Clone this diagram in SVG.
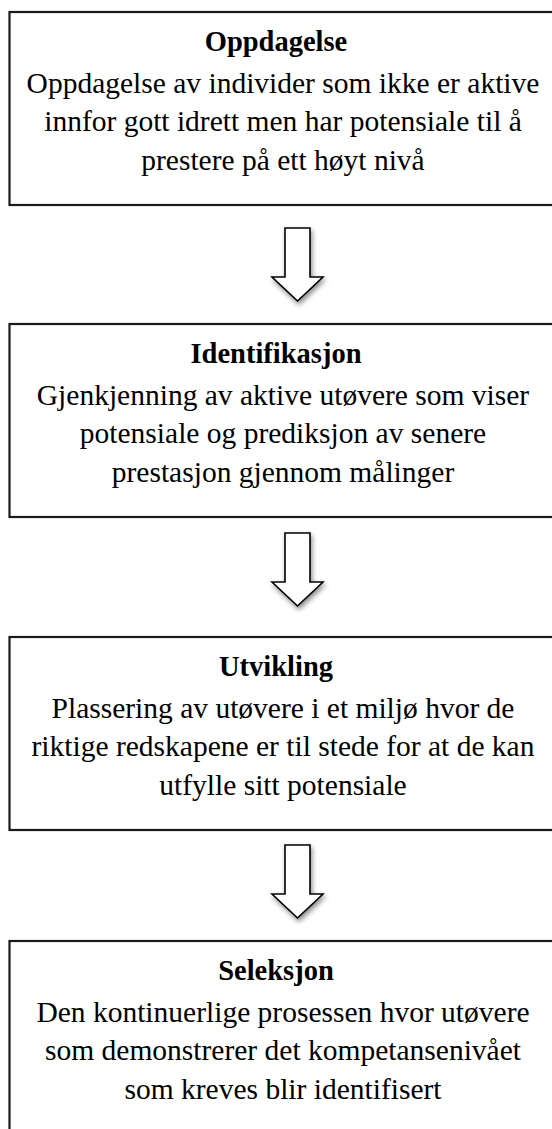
<svg xmlns="http://www.w3.org/2000/svg" width="552" height="1129" viewBox="0 0 552 1129">
<style>
.box{fill:#fff;stroke:#1a1a1a;stroke-width:2.2}
.t{font-family:"Liberation Serif","Times New Roman",serif;font-weight:bold;font-size:28.5px;fill:#000;text-anchor:middle}
.b{font-family:"Liberation Serif","Times New Roman",serif;font-size:29.5px;fill:#000;text-anchor:middle}
.arr{fill:#fff;stroke:#000;stroke-width:1.6;stroke-linejoin:miter;filter:url(#sh)}
</style>
<defs>
<filter id="sh" x="-50%" y="-50%" width="200%" height="200%">
<feDropShadow dx="1.5" dy="3" stdDeviation="2.5" flood-color="#000" flood-opacity="0.45"/>
</filter>
<path id="arrowShape" d="M285,0 L310,0 L310,49 L323,49 L297.5,73 L272,49 L285,49 Z"/>
</defs>
<rect width="552" height="1129" fill="#fff"/>
<g id="connectors">
<use href="#arrowShape" class="arr" transform="translate(0,228)"/>
<use href="#arrowShape" class="arr" transform="translate(0,533)"/>
<use href="#arrowShape" class="arr" transform="translate(0,845)"/>
</g>
<g id="oppdagelse">
<rect class="box" x="9.5" y="12" width="560" height="193"/>
<text class="t" x="276" y="51">Oppdagelse</text>
<text class="b" x="283" y="92.5">Oppdagelse av individer som ikke er aktive</text>
<text class="b" x="283" y="131">innfor gott idrett men har potensiale til å</text>
<text class="b" x="283" y="169.5">prestere på ett høyt nivå</text>
</g>
<g id="identifikasjon">
<rect class="box" x="9.5" y="324" width="560" height="193"/>
<text class="t" x="276" y="363">Identifikasjon</text>
<text class="b" x="283" y="404.5">Gjenkjenning av aktive utøvere som viser</text>
<text class="b" x="283" y="443">potensiale og prediksjon av senere</text>
<text class="b" x="283" y="481.5">prestasjon gjennom målinger</text>
</g>
<g id="utvikling">
<rect class="box" x="9.5" y="637" width="560" height="193"/>
<text class="t" x="276" y="676">Utvikling</text>
<text class="b" x="283" y="717.5">Plassering av utøvere i et miljø hvor de</text>
<text class="b" x="283" y="756">riktige redskapene er til stede for at de kan</text>
<text class="b" x="283" y="794.5">utfylle sitt potensiale</text>
</g>
<g id="seleksjon">
<rect class="box" x="9.5" y="941" width="560" height="193"/>
<text class="t" x="276" y="980">Seleksjon</text>
<text class="b" x="283" y="1021.5">Den kontinuerlige prosessen hvor utøvere</text>
<text class="b" x="283" y="1060">som demonstrerer det kompetansenivået</text>
<text class="b" x="283" y="1098.5">som kreves blir identifisert</text>
</g>
</svg>
